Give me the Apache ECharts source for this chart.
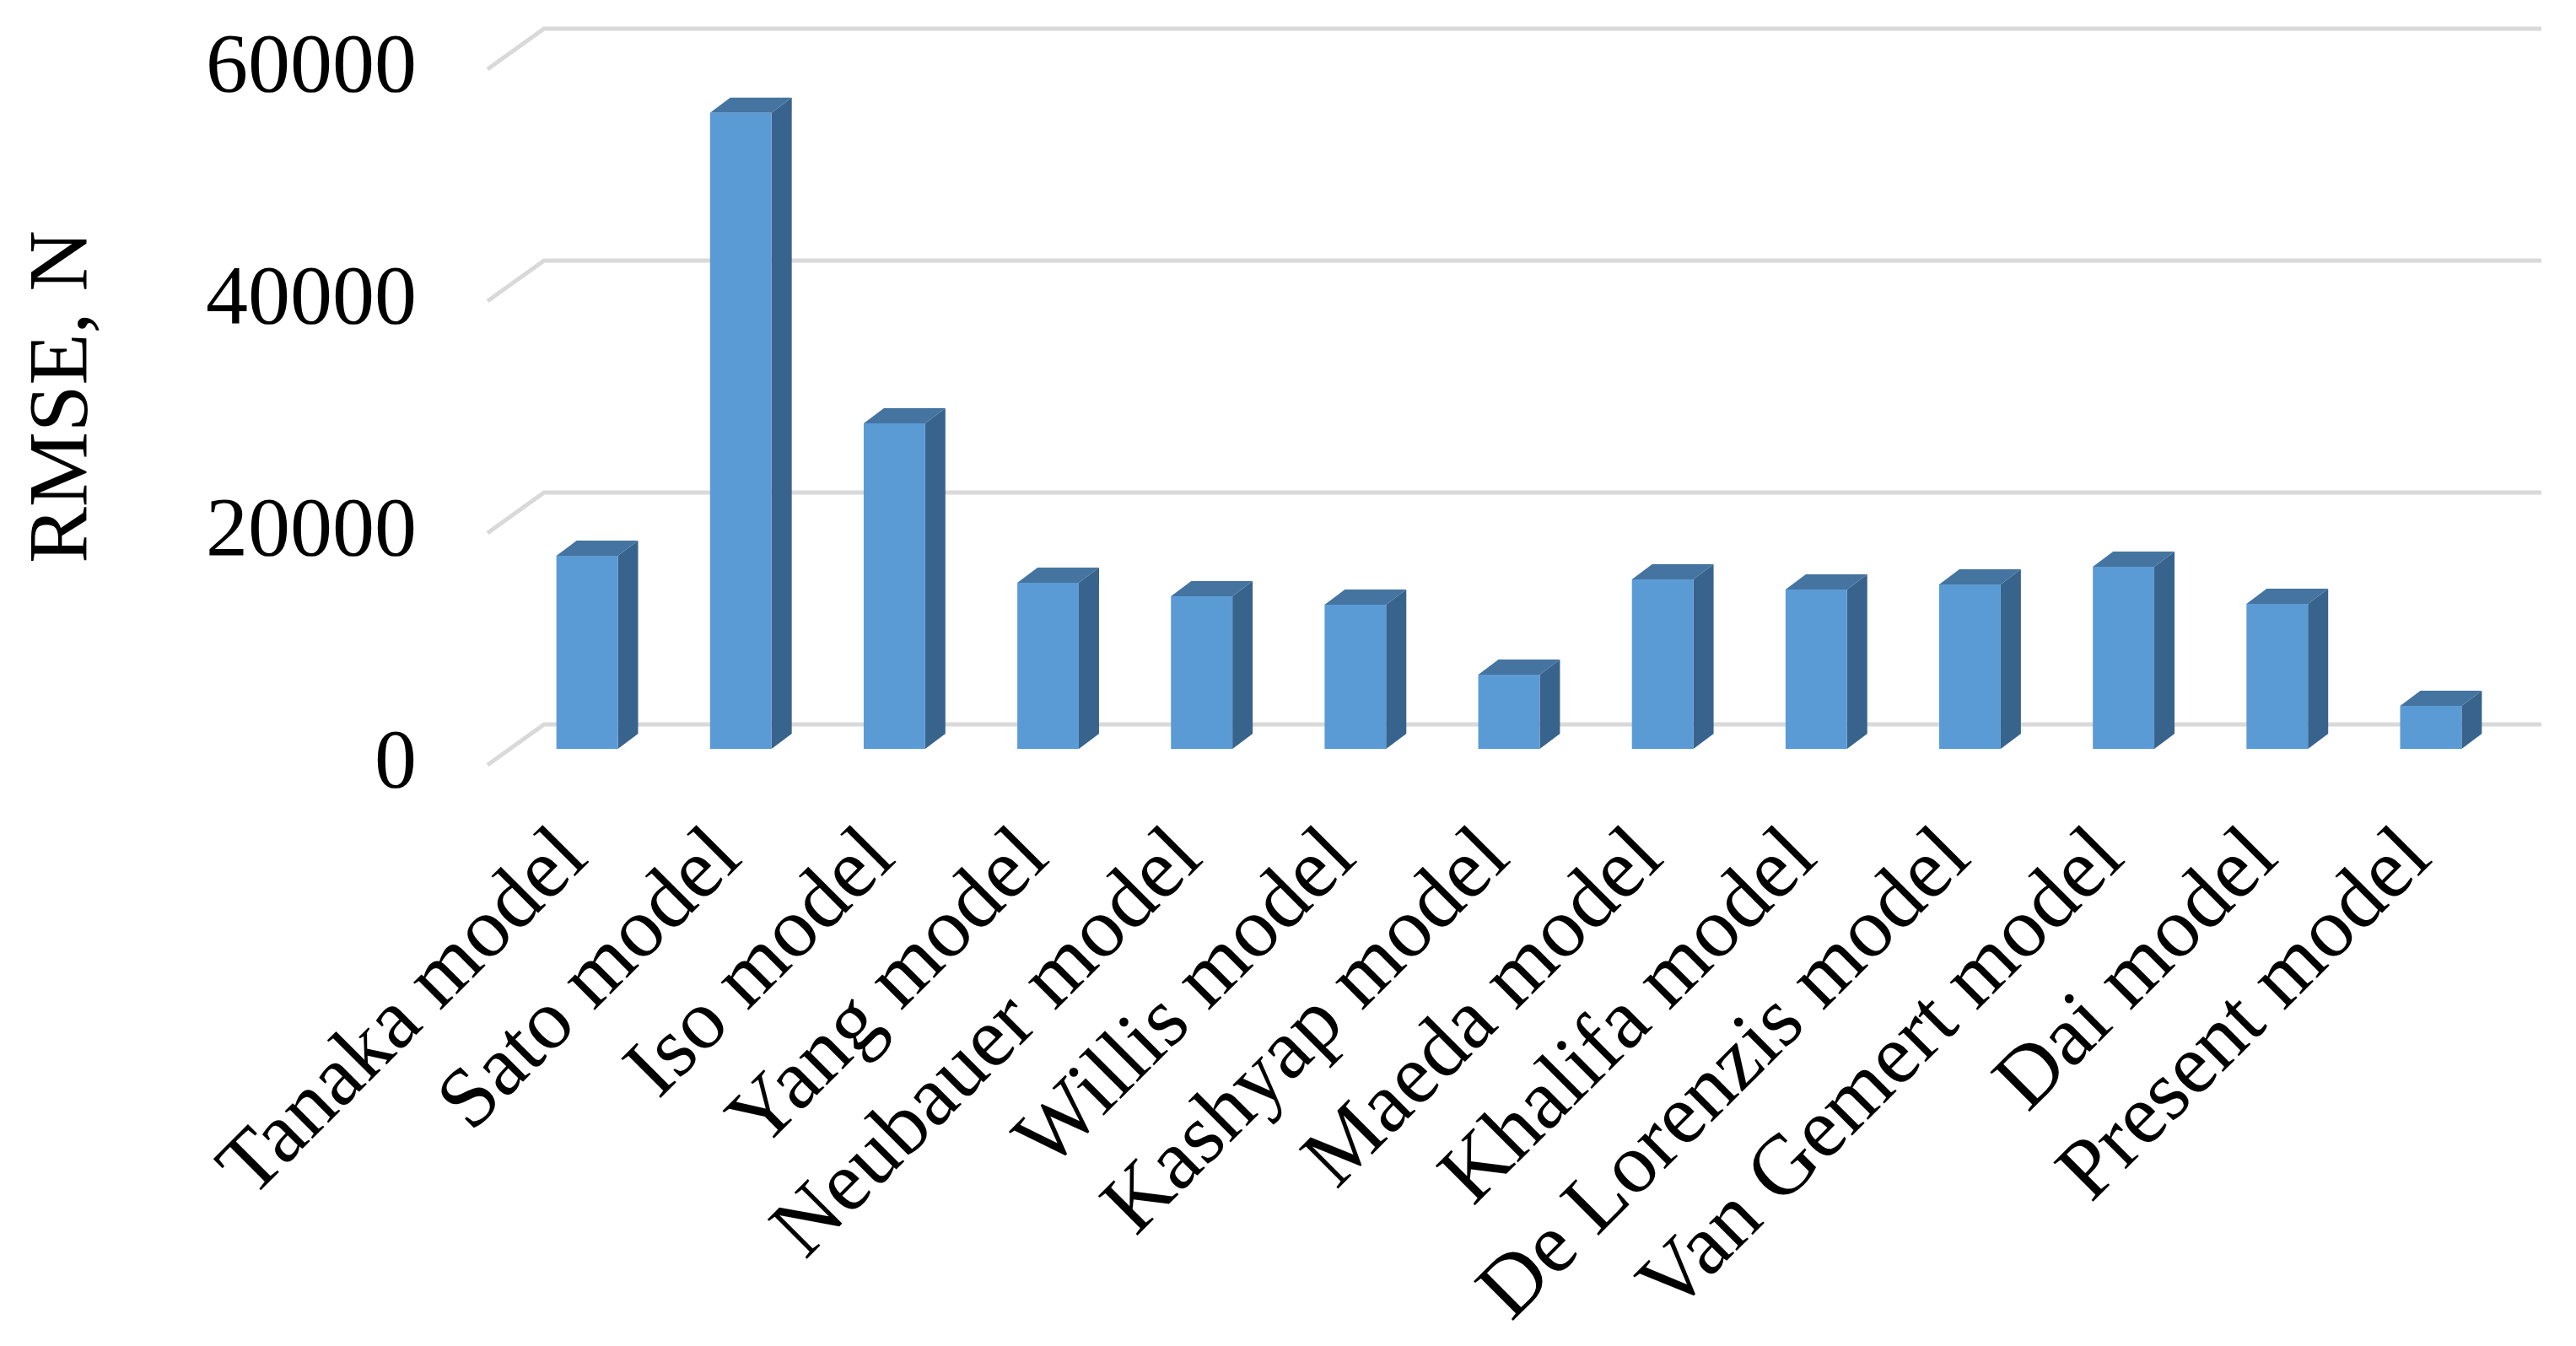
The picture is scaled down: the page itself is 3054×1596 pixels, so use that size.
<!DOCTYPE html>
<html>
<head>
<meta charset="utf-8">
<style>
  html, body { margin: 0; padding: 0; background: #fff; }
  #chart { width: 3054px; height: 1596px; }
</style>
<script src="https://cdn.jsdelivr.net/npm/echarts@6/dist/echarts.min.js"></script>
</head>
<body>
<div id="chart"></div>
<script>
// data
const categories = [
  'Tanaka model', 'Sato model', 'Iso model', 'Yang model', 'Neubauer model',
  'Willis model', 'Kashyap model', 'Maeda model', 'Khalifa model',
  'De Lorenzis model', 'Van Gemert model', 'Dai model', 'Present model'
]
const rmseValues = [16650, 54850, 28070, 14330, 13160, 12440, 6400, 14620, 13750, 14180, 15710, 12510, 3710]
const yTicks = [0, 20000, 40000, 60000]

// 3D look (oblique projection)
const FLOOR_DEPTH = [67, -48]       // front edge -> back wall
const FRONT_SHIFT = [27, -19]       // front face of the bars inside the floor
const BAR_DEPTH = [24, -18]
const BAR_RATIO = 0.4
const FONT = "'Liberation Serif', 'Times New Roman', serif"

const colors = {
  front: '#5b9bd5',
  side: '#38638c',
  top: '#4574a0',
  grid: '#d9d9d9'
}

const renderGridLine = (params, api) => {
  const cs = params.coordSys
  const y = api.coord([0, api.value(1)])[1]
  const x0 = cs.x
  const x1 = cs.x + cs.width
  return {
    type: 'polyline',
    shape: {
      points: [
        [x0, y],
        [x0 + FLOOR_DEPTH[0], y + FLOOR_DEPTH[1]],
        [x1 + FLOOR_DEPTH[0], y + FLOOR_DEPTH[1]]
      ]
    },
    style: { stroke: colors.grid, lineWidth: 5, fill: null }
  }
}

const renderBar = (params, api) => {
  const idx = api.value(0)
  const top = api.coord([idx, api.value(1)])
  const base = api.coord([idx, 0])
  const w = api.size([1, 0])[0] * BAR_RATIO
  const xl = top[0] - w / 2 + FRONT_SHIFT[0]
  const xr = xl + w
  const yt = top[1] + FRONT_SHIFT[1]
  const yb = base[1] + FRONT_SHIFT[1]
  const [dx, dy] = BAR_DEPTH
  return {
    type: 'group',
    children: [
      {
        type: 'polygon',
        shape: { points: [[xr, yt], [xr + dx, yt + dy], [xr + dx, yb + dy], [xr, yb]] },
        style: { fill: colors.side }
      },
      {
        type: 'polygon',
        shape: { points: [[xl, yt], [xl + dx, yt + dy], [xr + dx, yt + dy], [xr, yt]] },
        style: { fill: colors.top }
      },
      {
        type: 'rect',
        shape: { x: xl, y: yt, width: w, height: yb - yt },
        style: { fill: colors.front }
      }
    ]
  }
}

const chart = echarts.init(document.getElementById('chart'))

chart.setOption({
  backgroundColor: '#fff',
  animation: false,
  grid: [
    { left: 578, top: 82, width: 2368, height: 825 },
    // only for the category labels, shifted into the floor
    { left: 590, top: 82, width: 2368, height: 825 }
  ],
  xAxis: [
    {
      gridIndex: 0,
      type: 'category',
      data: categories,
      axisLine: { show: false },
      axisTick: { show: false },
      axisLabel: { show: false }
    },
    {
      gridIndex: 1,
      type: 'category',
      data: categories,
      axisLine: { show: false },
      axisTick: { show: false },
      axisLabel: {
        interval: 0,
        rotate: 45,
        margin: 95,
        color: '#000',
        fontSize: 101,
        fontFamily: FONT
      }
    }
  ],
  yAxis: [
    {
      gridIndex: 0,
      type: 'value',
      min: 0,
      max: 60000,
      interval: 20000,
      name: 'RMSE, N',
      nameLocation: 'middle',
      nameGap: 452,
      nameTextStyle: {
        color: '#000',
        fontSize: 100,
        fontFamily: FONT,
        padding: [0, 0, 0, 48]
      },
      axisLine: { show: false },
      axisTick: { show: false },
      splitLine: { show: false },
      axisLabel: {
        margin: 84,
        color: '#000',
        fontSize: 100,
        fontFamily: FONT,
        formatter: v => String(v)
      }
    },
    {
      gridIndex: 1,
      type: 'value',
      show: false,
      min: 0,
      max: 60000
    }
  ],
  series: [
    {
      name: 'grid',
      type: 'custom',
      xAxisIndex: 0,
      yAxisIndex: 0,
      silent: true,
      z: 1,
      data: yTicks.map(v => [0, v]),
      renderItem: renderGridLine
    },
    {
      name: 'RMSE',
      type: 'custom',
      xAxisIndex: 0,
      yAxisIndex: 0,
      z: 2,
      data: rmseValues.map((v, i) => [i, v]),
      renderItem: renderBar
    }
  ]
})
</script>
</body>
</html>
